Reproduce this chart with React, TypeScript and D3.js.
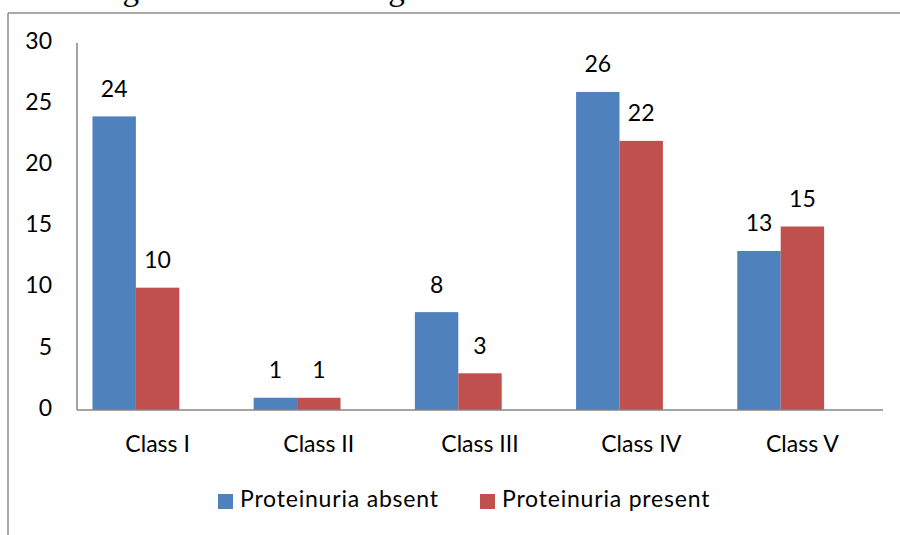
import React from "react";
import * as d3 from "d3";

const categories = ["Class I", "Class II", "Class III", "Class IV", "Class V"];
const seriesNames = ["Proteinuria absent", "Proteinuria present"];
const absentValues = [24, 1, 8, 26, 13];
const presentValues = [10, 1, 3, 22, 15];
const yTicks = [0, 5, 10, 15, 20, 25, 30];
const topText = "data among various classes of grade";

const W = 900;
const H = 535;
const colors = ["#4F81BD", "#C0504D"];
const FONT = "Lato, 'Open Sans', sans-serif";
const FS = 23;

export default function App() {
  const left = 77;
  const right = 883;
  const top = 43;
  const bottom = 410;

  const x0 = d3
    .scaleBand<string>()
    .domain(categories)
    .range([left, right])
    .paddingInner(0.192)
    .paddingOuter(0.096);
  // three slots per group (Excel-style layout with an empty third slot)
  const x1 = d3
    .scaleBand<number>()
    .domain([0, 1, 2])
    .range([0, x0.bandwidth()]);
  const y = d3.scaleLinear().domain([0, 30]).range([bottom, top]);

  const series = [absentValues, presentValues];

  return (
    <svg
      width={W}
      height={H}
      style={{ position: "absolute", left: 0, top: 0, background: "#fff" }}
      fontFamily={FONT}
    >
      <rect x={0} y={0} width={W} height={H} fill="#fff" />
      <text
        x={-14}
        y={0}
        fontFamily="'Liberation Serif', 'Times New Roman', serif"
        fontSize={33}
        fill="#000"
      >
        {topText}
      </text>
      {/* outer frame */}
      <line x1={8} y1={13} x2={W + 5} y2={13} stroke="#8c8c8c" strokeWidth={1.5} />
      <line x1={8} y1={13} x2={8} y2={H + 5} stroke="#8c8c8c" strokeWidth={1.5} />

      {/* y tick labels */}
      {yTicks.map((t) => (
        <text
          key={t}
          x={52}
          y={y(t)}
          textAnchor="end"
          dominantBaseline="middle"
          fontSize={FS}
          fill="#000"
        >
          {t}
        </text>
      ))}

      {/* bars */}
      {categories.map((c, i) => (
        <g key={c}>
          {series.map((vals, s) => (
            <rect
              key={s}
              x={(x0(c) as number) + (x1(s) as number)}
              y={y(vals[i])}
              width={x1.bandwidth()}
              height={y(0) - y(vals[i])}
              fill={colors[s]}
            />
          ))}
          {series.map((vals, s) => (
            <text
              key={"l" + s}
              x={(x0(c) as number) + (x1(s) as number) + x1.bandwidth() / 2}
              y={y(vals[i]) - 19.5}
              textAnchor="middle"
              fontSize={FS}
              fill="#000"
            >
              {vals[i]}
            </text>
          ))}
          <text
            x={(x0(c) as number) + x0.step() / 2 - (x0.step() - x0.bandwidth()) / 2}
            y={452}
            textAnchor="middle"
            fontSize={FS}
            fill="#000"
          >
            {c}
          </text>
        </g>
      ))}

      {/* axes */}
      <line x1={left} y1={top} x2={left} y2={bottom} stroke="#868686" strokeWidth={1.5} />
      <line x1={left} y1={bottom} x2={right} y2={bottom} stroke="#868686" strokeWidth={1.5} />

      {/* legend */}
      <rect x={218} y={494} width={15} height={15} fill={colors[0]} />
      <text
        x={240}
        y={501.5}
        dominantBaseline="middle"
        fontSize={FS}
        letterSpacing={0.8}
        fill="#000"
      >
        {seriesNames[0]}
      </text>
      <rect x={480} y={494} width={15} height={15} fill={colors[1]} />
      <text
        x={502}
        y={501.5}
        dominantBaseline="middle"
        fontSize={FS}
        letterSpacing={0.8}
        fill="#000"
      >
        {seriesNames[1]}
      </text>
    </svg>
  );
}
